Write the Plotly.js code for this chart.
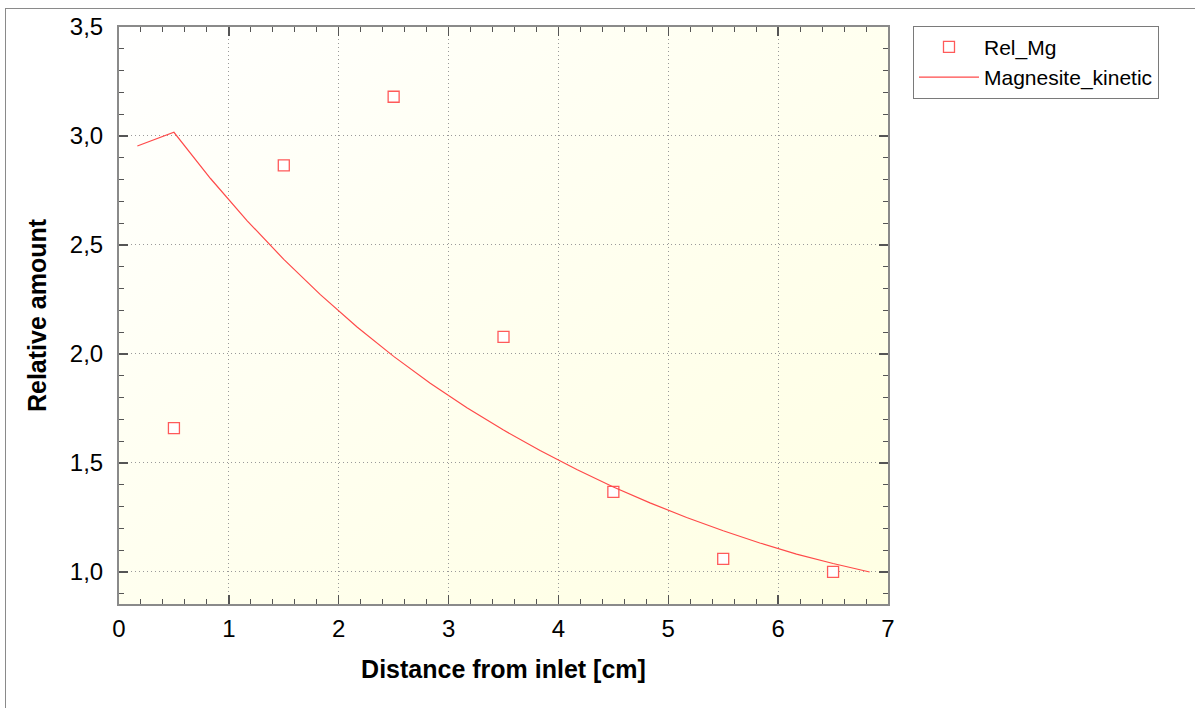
<!DOCTYPE html>
<html>
<head>
<meta charset="utf-8">
<script src="https://cdn.plot.ly/plotly-3.0.1.min.js"></script>
<style>
  html, body { margin: 0; padding: 0; background: #ffffff; }
  #wrap { position: relative; width: 1195px; height: 708px; overflow: hidden; background: #ffffff; }
  #frame { position: absolute; left: 5px; top: 8px; width: 1300px; height: 800px;
           border-left: 1px solid #8a8a8a; border-top: 1px solid #8a8a8a; }
  #bg { position: absolute; left: 119px; top: 27px; width: 769px; height: 577px;
        background: linear-gradient(to bottom right, #ffffff 0%, #fffff3 35%, #ffffea 70%, #ffffe3 100%); }
  #chart { position: absolute; left: 0; top: 0; width: 1195px; height: 708px; }
</style>
</head>
<body>
<div id="wrap">
  <div id="frame"></div>
  <div id="bg"></div>
  <div id="chart"></div>
</div>
<script>
// Measured data (Rel_Mg)
const measX = [0.5, 1.5, 2.5, 3.5, 4.5, 5.5, 6.5];
const measY = [1.66, 2.865, 3.18, 2.078, 1.367, 1.06, 1.0];

// Model curve (Magnesite_kinetic)
const modelX = [0.167, 0.5, 0.833, 1.167, 1.5, 1.833, 2.167, 2.5, 2.833, 3.167, 3.5,
                3.833, 4.167, 4.5, 4.833, 5.167, 5.5, 5.833, 6.167, 6.5, 6.833];
const modelY = [2.954, 3.017, 2.805, 2.611, 2.434, 2.272, 2.124, 1.989, 1.866, 1.753, 1.651,
                1.557, 1.470, 1.390, 1.317, 1.250, 1.189, 1.133, 1.082, 1.039, 1.0];

const xTitle = 'Distance from inlet [cm]';
const yTitle = 'Relative amount';

const FONT = 'Liberation Sans, Arial, sans-serif';
const AXC = '#8a8a8a';

const traces = [
  {
    x: measX, y: measY, type: 'scatter', mode: 'markers', name: 'Rel_Mg',
    marker: { symbol: 'square', size: 11, color: '#ffffff',
              line: { color: '#ff5a5a', width: 1.3 } }
  },
  {
    x: modelX, y: modelY, type: 'scatter', mode: 'lines', name: 'Magnesite_kinetic',
    line: { color: '#ff4a4a', width: 1.2 }
  }
];

const layout = {
  width: 1195, height: 708,
  margin: { l: 119, r: 307, t: 27, b: 104, pad: 0 },
  paper_bgcolor: 'rgba(0,0,0,0)',
  plot_bgcolor: 'rgba(0,0,0,0)',
  separators: ', ',
  font: { family: FONT, color: '#000000', size: 22 },
  showlegend: true,
  legend: {
    x: 1.0325, y: 1.0023, xanchor: 'left', yanchor: 'top',
    bgcolor: '#ffffff', bordercolor: '#7a7a7a', borderwidth: 1,
    font: { family: FONT, size: 21, color: '#000000' },
    itemwidth: 60, tracegroupgap: 0
  },
  xaxis: {
    range: [0, 7], dtick: 1, tick0: 0, autorange: false,
    showline: true, linecolor: AXC, linewidth: 2, mirror: 'ticks',
    ticks: 'inside', ticklen: 9, tickwidth: 1.5, tickcolor: '#555555',
    minor: { dtick: 0.2, ticks: 'inside', ticklen: 5, tickwidth: 1, tickcolor: '#555555', showgrid: false },
    showgrid: true, gridcolor: '#9a9a9a', gridwidth: 1, griddash: '1px,3px',
    zeroline: false,
    tickfont: { family: FONT, size: 24, color: '#000000' },
    ticklabelstandoff: 2,
    title: { text: xTitle, standoff: 20, font: { family: FONT, size: 25, color: '#000000', weight: 'bold' } }
  },
  yaxis: {
    range: [0.853, 3.5], dtick: 0.5, tick0: 0, autorange: false, tickformat: '.1f',
    showline: true, linecolor: AXC, linewidth: 2, mirror: 'ticks',
    ticks: 'inside', ticklen: 9, tickwidth: 1.5, tickcolor: '#555555',
    minor: { dtick: 0.1, ticks: 'inside', ticklen: 5, tickwidth: 1, tickcolor: '#555555', showgrid: false },
    showgrid: true, gridcolor: '#9a9a9a', gridwidth: 1, griddash: '1px,3px',
    zeroline: false,
    tickfont: { family: FONT, size: 24, color: '#000000' },
    ticklabelstandoff: 9,
    title: { text: yTitle, standoff: 16, font: { family: FONT, size: 25, color: '#000000', weight: 'bold' } }
  }
};

Plotly.newPlot('chart', traces, layout, { displayModeBar: false, staticPlot: true });
</script>
</body>
</html>
